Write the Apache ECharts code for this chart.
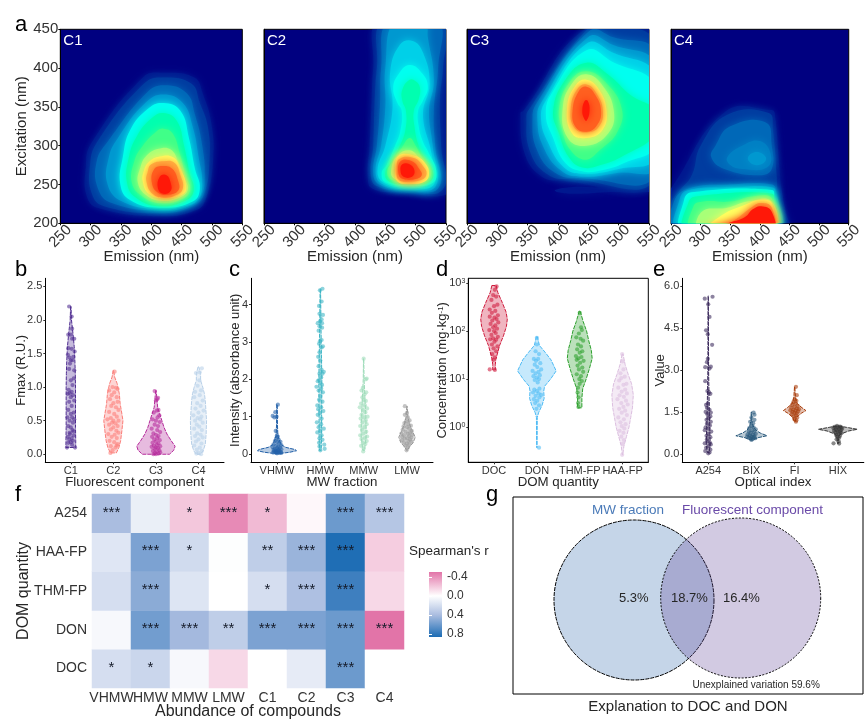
<!DOCTYPE html>
<html><head><meta charset="utf-8">
<script src="https://cdn.jsdelivr.net/npm/echarts@6/dist/echarts.min.js"></script>
<style>html,body{margin:0;padding:0;background:#fff}#c{width:865px;height:723px}</style>
</head><body><div id="c"></div>
<script>
const FONT='Liberation Sans';
// ---------- panel a : contour bands, [level, [[emission, excitation], ...]] ----------
const JET=['#00188f','#003ca0','#0068b8','#0098d0','#00d0e8','#00fff0','#00ffb0','#40ff88','#a8ff78','#ffff60','#ffb040','#ff6020','#ff1808'];
const C1_BANDS=[
[0,[[301,303],[386,388],[419,394],[471,388],[485,367],[499,329],[502,282],[491,234],[474,217],[414,209],[315,219],[294,234],[292,273]]],
[1,[[311,305],[388,380],[420,388],[466,380],[480,355],[493,325],[496,282],[487,238],[468,222],[414,213],[322,222],[302,238],[299,275]]],
[2,[[328,305],[392,368],[420,378],[458,368],[472,340],[484,300],[488,260],[482,235],[462,222],[414,216],[335,226],[312,245],[310,280]]],
[3,[[345,310],[390,355],[420,366],[452,355],[468,325],[478,285],[484,250],[476,230],[455,222],[414,218],[352,228],[328,250],[330,285]]],
[5,[[365,320],[395,348],[420,355],[448,345],[462,310],[472,270],[480,245],[468,228],[414,220],[365,230],[349,250],[353,285]]],
[6,[[376,312],[400,335],[420,342],[442,332],[454,300],[463,265],[470,243],[458,230],[414,222],[375,233],[360,252],[363,285]]],
[7,[[386,300],[408,318],[420,322],[435,316],[447,290],[456,262],[464,243],[450,231],[415,226],[385,235],[368,252],[372,280]]],
[8,[[392,287],[412,296],[432,295],[445,278],[455,258],[460,243],[446,233],[416,229],[392,236],[378,252],[382,272]]],
[9,[[396,279],[414,286],[436,285],[448,270],[457,250],[453,238],[420,232],[396,238],[386,254],[388,268]]],
[10,[[400,276],[420,280],[438,278],[448,262],[452,245],[440,236],[420,233],[402,238],[392,254],[394,266]]],
[11,[[405,270],[420,274],[435,270],[444,255],[445,243],[430,237],[412,239],[401,252]]],
[12,[[414,260],[425,262],[432,252],[432,242],[420,238],[411,245]]]];
const C2_BANDS=[
[0,[[440,462],[430,400],[427,350],[424,300],[421,260],[428,245],[470,240],[560,242],[565,300],[565,462]]],
[1,[[447,462],[436,400],[432,350],[430,300],[426,262],[436,248],[480,242],[545,244],[542,300],[540,360],[545,400],[545,462]]],
[2,[[456,462],[443,400],[441,350],[436,300],[430,265],[440,250],[485,243],[538,246],[532,300],[530,345],[537,400],[536,462]]],
[3,[[466,462],[450,400],[450,350],[443,300],[434,268],[444,251],[490,244],[533,248],[528,300],[522,345],[530,385],[520,440],[515,462]]],
[4,[[474,430],[458,395],[462,350],[450,300],[437,268],[448,252],[490,246],[530,250],[526,290],[512,340],[523,380],[512,420],[495,435]]],
[5,[[490,404],[470,390],[463,373],[470,355],[477,345],[475,320],[466,300],[452,275],[444,265],[450,253],[490,248],[528,252],[534,268],[522,290],[512,305],[505,325],[504,345],[512,358],[520,375],[512,392]]],
[6,[[490,385],[478,372],[478,358],[484,345],[483,320],[474,300],[460,280],[450,265],[456,254],[490,250],[524,254],[528,268],[514,285],[504,302],[498,325],[497,345],[505,360],[507,375],[500,383]]],
[7,[[490,310],[476,296],[462,280],[453,266],[460,256],[490,252],[520,256],[523,268],[510,285],[500,300]]],
[8,[[490,294],[470,287],[460,270],[464,258],[490,254],[517,258],[520,270],[505,285]]],
[9,[[472,287],[498,287],[515,278],[522,264],[515,254],[490,251],[470,254],[466,268]]],
[10,[[473,283],[497,284],[512,274],[518,264],[510,256],[490,254],[472,256],[469,270]]],
[11,[[475,280],[494,280],[506,270],[510,262],[500,257],[480,257],[472,263]]],
[12,[[478,276],[490,276],[498,268],[494,260],[480,260],[475,268]]]];
const C3_BANDS=[
[0,[[338,342],[343,345],[448,452],[560,456],[560,255],[400,255],[370,262],[345,290]]],
[0,[[395,243],[430,247],[470,246],[560,246],[560,241],[480,240],[430,238],[400,240]]],
[1,[[348,338],[355,350],[450,452],[480,456],[560,432],[560,257],[420,257],[385,262],[355,290]]],
[2,[[358,335],[365,355],[452,448],[490,440],[560,420],[560,262],[440,258],[395,265],[365,295]]],
[3,[[366,335],[372,355],[450,440],[490,430],[560,405],[560,272],[500,265],[440,260],[405,268],[375,300]]],
[4,[[372,335],[380,358],[448,432],[490,420],[560,392],[560,285],[500,270],[440,264],[410,272],[383,305]]],
[5,[[380,340],[390,368],[447,423],[490,408],[560,378],[560,300],[510,278],[470,268],[440,267],[412,278],[392,310]]],
[6,[[392,345],[412,385],[447,407],[482,392],[520,365],[560,345],[560,315],[510,288],[470,275],[440,272],[418,285],[402,315]]],
[7,[[402,350],[422,385],[447,396],[478,382],[505,348],[498,318],[470,295],[445,282],[420,295],[408,318]]],
[8,[[408,350],[425,382],[447,392],[473,378],[492,345],[483,316],[447,300],[416,310]]],
[9,[[415,349],[429,378],[447,385],[467,373],[480,345],[473,320],[447,310],[423,316]]],
[10,[[421,348],[432,373],[447,379],[463,368],[474,345],[467,324],[447,317],[427,323]]],
[11,[[424,345],[434,370],[447,376],[461,366],[471,345],[464,326],[447,318],[429,324]]],
[12,[[440,345],[444,358],[449,358],[452,345],[447,332],[443,335]]]];
const C4_BANDS=[
[0,[[240,235],[250,245],[342,344],[420,346],[425,342],[433,273],[436,247],[444,213],[450,190],[240,190]]],
[1,[[300,300],[345,340],[415,342],[422,320],[428,265],[430,225],[432,190],[245,190],[250,225],[262,240],[285,262]]],
[2,[[325,300],[350,325],[410,330],[420,300],[420,270],[400,262],[340,270],[318,285]]],
[2.5,[[345,285],[370,300],[400,306],[418,290],[412,272],[370,270],[350,275]]],
[3,[[380,285],[395,292],[410,285],[405,277],[388,276]]],
[2,[[255,190],[255,228],[280,245],[350,250],[420,250],[428,240],[430,190]]],
[3,[[262,190],[265,232],[280,243],[350,246],[422,246],[426,235],[428,190]]],
[5,[[270,190],[272,230],[285,240],[420,243],[424,232],[425,190]]],
[6,[[275,190],[280,228],[295,235],[420,238],[423,225],[423,190]]],
[7,[[285,190],[288,222],[305,228],[350,228],[390,235],[420,232],[422,190]]],
[8,[[298,190],[302,215],[345,220],[380,228],[420,228],[422,190]]],
[9,[[310,190],[335,210],[375,224],[400,230],[420,226],[421,190]]],
[10,[[335,190],[365,208],[385,220],[402,226],[420,220],[421,190]]],
[12,[[305,190],[350,201],[375,208],[388,218],[402,222],[420,215],[421,190]]]];
const EM_TICKS=[250,300,350,400,450,500,550];
const EX_TICKS=[200,250,300,350,400,450];

// ---------- panels b-e : violin outline [value, half width], points [jitter, value] ----------
const FMAX_CATS=['C1','C2','C3','C4'];
const FMAX_COLORS=['#4f2d91','#fb7d78','#b52a9b','#b8d0e8'];
const FMAX_VIOLINS=[
[[2.2,.005],[2.0,.015],[1.8,.05],[1.6,.08],[1.4,.095],[1.2,.105],[1.0,.11],[.8,.11],[.6,.11],[.4,.11],[.2,.115],[.1,.115]],
[[1.25,.005],[1.15,.03],[1.05,.09],[.9,.14],[.75,.16],[.6,.2],[.5,.225],[.35,.2],[.2,.17],[.1,.13],[.02,.07]],
[[.95,.005],[.85,.02],[.7,.04],[.6,.09],[.5,.14],[.4,.19],[.3,.26],[.2,.36],[.12,.45],[.06,.42],[0,.32]],
[[1.3,.01],[1.2,.05],[1.1,.05],[1.0,.1],[.9,.14],[.8,.16],[.6,.18],[.5,.19],[.3,.18],[.15,.16],[.05,.11],[0,.05]]];
const FMAX_POINTS=[
[[-.04,2.2],[.02,2.05],[.03,1.87],[-.06,1.78],[0,1.78],[.08,1.72],[.03,1.72],[-.06,1.58],[.02,1.57],[.09,1.53],[-.07,1.48],[-.03,1.44],[.06,1.45],[0,1.4],[.04,1.4],[-.02,1.35],[.08,1.25],[-.04,1.27],[.07,1.13],[0,1.1],[.04,1.03],[-.05,.96],[.02,.93],[-.03,.91],[-.07,.9],[.05,.88],[0,.85],[.08,.8],[-.04,.78],[.02,.72],[-.06,.66],[.07,.62],[0,.6],[-.08,.55],[.03,.55],[.08,.52],[-.03,.5],[.05,.47],[-.06,.42],[0,.4],[.04,.36],[-.02,.3],[.07,.28],[-.07,.26],[.02,.24],[-.04,.22],[.05,.2],[0,.18],[-.06,.17],[.03,.14],[.1,.1],[-.09,.1],[-.03,.32],[.06,.34]],
[[.03,1.23],[-.02,1.0],[.06,.99],[.1,.97],[-.1,.95],[.02,.92],[-.04,.88],[.08,.85],[-.08,.82],[.1,.78],[0,.76],[-.05,.72],[.06,.7],[.12,.66],[-.1,.63],[.02,.6],[.08,.56],[-.06,.54],[-.14,.52],[.12,.5],[0,.5],[-.03,.47],[.05,.46],[-.1,.44],[.1,.42],[0,.4],[-.06,.37],[.07,.35],[.12,.32],[-.12,.3],[.03,.29],[-.04,.26],[.08,.24],[-.09,.2],[.02,.18],[.1,.15],[-.06,.12],[.05,.1],[-.02,.06],[-.07,.02],[.08,.13]],
[[-.03,.94],[.05,.84],[0,.8],[.03,.82],[.06,.66],[.02,.65],[-.05,.62],[.08,.58],[.04,.55],[-.08,.52],[0,.5],[.09,.48],[-.03,.44],[.05,.42],[-.1,.38],[.03,.36],[.1,.33],[-.06,.31],[0,.29],[.06,.27],[-.09,.26],[.03,.24],[-.04,.22],[.09,.21],[0,.19],[-.08,.17],[.06,.16],[.02,.14],[-.05,.13],[.1,.12],[-.1,.11],[0,.1],[.05,.09],[-.03,.08],[.08,.06],[-.07,.05],[.02,.04],[-.02,.02],[.06,.01],[0,0],[-.06,0],[.1,.03]],
[[.08,1.28],[.03,1.22],[-.06,1.21],[.02,1.1],[-.02,1.02],[.06,.95],[-.08,.93],[.03,.88],[-.1,.85],[.1,.8],[-.03,.76],[.05,.72],[-.07,.68],[.12,.65],[0,.62],[-.12,.58],[.07,.56],[-.02,.54],[.04,.52],[-.08,.5],[.1,.47],[-.04,.44],[.02,.41],[-.1,.38],[.08,.36],[-.03,.31],[.05,.29],[-.08,.27],[.1,.25],[0,.22],[-.06,.19],[.07,.16],[-.1,.13],[.03,.1],[-.04,.07],[.08,.05],[0,.02],[-.05,.01],[.06,0]]];

const MW_CATS=['VHMW','HMW','MMW','LMW'];
const MW_COLORS=['#2260a8','#3cb5c5','#9fdcba','#9a9a9a'];
const MW_VIOLINS=[
[[1.33,.005],[1.0,.01],[.8,.01],[.5,.02],[.35,.06],[.25,.1],[.18,.2],[.12,.42],[.09,.45],[.05,.3],[.02,.1]],
[[4.42,.005],[3,.02],[2,.035],[1,.03],[.5,.03],[.1,.02]],
[[2.55,.003],[2,.01],[1.5,.03],[1,.05],[.5,.06],[.1,.02]],
[[1.28,.005],[1,.02],[.8,.06],[.6,.13],[.45,.19],[.3,.14],[.2,.06],[.1,.01]]];
const MW_POINTS=[
[[.02,1.32],[-.04,1.12],[-.1,1.02],[-.06,.98],[-.01,1.0],[-.03,.62],[0,.5],[.02,.46],[-.02,.42],[.04,.38],[-.05,.35],[.08,.33],[0,.32],[.05,.28],[-.08,.26],[.1,.24],[-.02,.22],[.03,.2],[-.1,.18],[.07,.17],[0,.15],[-.05,.14],[.1,.13],[.04,.12],[-.08,.11],[.02,.1],[-.03,.09],[.06,.08],[-.07,.07],[0,.06],[.09,.05],[-.04,.05],[.03,.04],[-.09,.04],[.06,.03],[-.02,.03],[.1,.03],[0,.02]],
[[.05,4.42],[-.01,4.38],[.03,4.08],[-.03,3.96],[-.02,3.75],[.06,3.72],[.03,3.6],[-.01,3.55],[.04,3.5],[-.06,3.5],[-.02,3.42],[.04,3.38],[-.04,3.3],[-.01,3.02],[.03,3.05],[-.03,2.95],[.06,2.88],[.03,2.85],[-.02,2.72],[-.05,2.6],[0,2.5],[-.04,2.35],[.03,2.25],[.08,2.2],[-.02,2.15],[.05,2.15],[.02,2.05],[-.03,1.98],[-.06,1.95],[0,1.9],[.04,1.85],[-.09,1.8],[.02,1.75],[-.04,1.7],[.06,1.65],[0,1.55],[-.03,1.45],[.05,1.4],[-.07,1.3],[.02,1.25],[-.05,1.2],[.07,1.15],[-.01,1.1],[-.06,1.05],[.03,.95],[-.08,.85],[.02,.8],[-.04,.72],[.08,.68],[0,.62],[-.07,.58],[.03,.5],[-.02,.42],[.05,.38],[-.03,.3],[.09,.25],[-.02,.2],[.1,.14],[0,.1]],
[[0,2.55],[.07,2.02],[.05,2.0],[-.02,1.77],[-.05,1.7],[.06,1.65],[.02,1.6],[-.03,1.52],[0,1.45],[.05,1.42],[-.06,1.35],[.03,1.3],[-.09,1.25],[.08,1.22],[-.02,1.18],[.04,1.12],[-.05,1.05],[.09,1.0],[.01,.98],[-.07,.95],[.05,.9],[-.03,.85],[.07,.8],[-.08,.75],[.02,.72],[-.04,.65],[.06,.6],[-.01,.55],[-.08,.5],[.08,.47],[.03,.43],[-.05,.4],[.07,.35],[-.02,.3],[.04,.27],[-.06,.22],[0,.15],[-.01,.07]],
[[-.05,1.28],[0,1.1],[-.05,1.05],[.02,.98],[.06,.9],[-.02,.88],[-.06,.83],[.03,.8],[.09,.76],[-.08,.74],[0,.72],[.05,.68],[-.1,.65],[.11,.62],[-.03,.6],[.07,.58],[-.13,.55],[.02,.54],[.12,.52],[-.07,.5],[.05,.48],[-.11,.46],[.1,.44],[0,.43],[-.05,.41],[.07,.39],[-.12,.37],[.03,.35],[.1,.33],[-.07,.31],[0,.28],[.05,.25],[-.04,.22],[.02,.17],[-.01,.1]]];

const DOM_CATS=['DOC','DON','THM-FP','HAA-FP'];
const DOM_COLORS=['#cf1a3c','#4dbbf5','#2ca02c','#dcbfe0'];
// log10 of concentration (mg/kg)
const DOM_VIOLINS=[
[[2.95,.05],[2.8,.09],[2.6,.19],[2.4,.28],[2.25,.31],[2.1,.29],[1.9,.22],[1.7,.13],[1.5,.07],[1.4,.04],[1.3,.03],[1.19,.03]],
[[1.885,.01],[1.7,.06],[1.55,.2],[1.4,.33],[1.17,.45],[1.0,.32],[.85,.18],[.75,.16],[.6,.17],[.45,.12],[.3,.04],[.2,.01],[-.43,.005]],
[[2.42,.01],[2.2,.08],[2.0,.16],[1.8,.21],[1.6,.27],[1.43,.29],[1.2,.22],[1.0,.15],[.8,.07],[.6,.05],[.4,.05]],
[[1.52,.01],[1.3,.06],[1.1,.13],[.9,.21],[.67,.25],[.4,.23],[.2,.19],[0,.15],[-.2,.09],[-.4,.03],[-.58,.005]]];
const DOM_POINTS=[
[[.06,2.93],[.02,2.86],[-.02,2.75],[.05,2.72],[-.06,2.65],[.08,2.55],[0,2.52],[-.1,2.45],[.03,2.42],[-.05,2.38],[.09,2.33],[-.1,2.3],[.01,2.28],[.06,2.25],[-.04,2.22],[.1,2.18],[-.08,2.15],[.03,2.12],[-.02,2.08],[.07,2.05],[-.11,2.02],[0,2.0],[.04,1.96],[-.06,1.92],[.09,1.88],[-.02,1.85],[-.09,1.83],[.05,1.82],[.01,1.78],[-.05,1.72],[.08,1.68],[-.01,1.64],[.05,1.58],[-.04,1.52],[.02,1.45],[-.02,1.4],[-.1,1.2],[.02,1.19]],
[[0,1.86],[0,1.72],[-.03,1.58],[.05,1.52],[-.07,1.42],[.03,1.42],[-.02,1.38],[.08,1.33],[-.05,1.3],[.01,1.25],[.1,1.2],[-.1,1.17],[.04,1.15],[-.03,1.12],[.07,1.08],[-.08,1.06],[0,1.03],[.05,1.0],[-.05,.98],[.02,.93],[.06,.8],[-.06,.78],[0,.75],[-.09,.72],[.04,.7],[.1,.67],[-.03,.65],[.06,.62],[-.07,.58],[.01,.55],[-.04,.5],[.05,.45],[-.01,.38],[.05,-.43]],
[[0,2.38],[.03,2.08],[.05,2.02],[-.02,1.95],[-.08,1.87],[.02,1.84],[.08,1.8],[-.04,1.72],[.03,1.68],[-.06,1.62],[.06,1.58],[0,1.55],[-.09,1.48],[.04,1.46],[-.03,1.43],[-.07,1.4],[.09,1.38],[.01,1.34],[-.05,1.28],[.06,1.24],[-.02,1.2],[.08,1.15],[-.07,1.1],[.03,1.06],[-.01,1.0],[.05,.96],[0,.9],[-.04,.82],[-.05,.72],[-.03,.62],[-.04,.5],[-.03,.42]],
[[-.01,1.52],[0,1.37],[.02,1.2],[-.05,1.12],[.05,1.05],[-.03,1.02],[-.08,.97],[.09,.9],[.02,.88],[-.1,.82],[.06,.78],[-.02,.74],[.1,.7],[-.07,.66],[.03,.63],[-.12,.58],[.08,.55],[-.03,.5],[.12,.47],[.02,.42],[-.08,.38],[.06,.34],[-.02,.3],[.1,.25],[-.1,.2],[.03,.16],[-.05,.1],[.07,.06],[-.02,.02],[.04,-.03],[-.07,-.08],[.02,-.12],[-.03,-.2],[.03,-.27],[0,-.35],[-.01,-.58]]];

const OPT_CATS=['A254','BIX','FI','HIX'];
const OPT_COLORS=['#3b2a5c','#26577a','#a83c0a','#333333'];
const OPT_VIOLINS=[
[[5.65,.003],[3,.008],[1.5,.025],[.7,.04],[.3,.045],[.05,.02]],
[[1.5,.005],[1.2,.01],[1.0,.04],[.85,.1],[.75,.2],[.65,.36],[.58,.15],[.5,.03]],
[[2.4,.003],[2.0,.02],[1.8,.06],[1.65,.17],[1.55,.26],[1.45,.15],[1.3,.04],[1.15,.01]],
[[1.0,.02],[.95,.2],[.88,.45],[.82,.25],[.7,.05],[.55,.02],[.37,.01]]];
const OPT_POINTS=[
[[-.08,5.55],[.1,5.62],[0,5.35],[.03,4.9],[-.05,4.42],[-.01,4.28],[.09,3.9],[-.01,3.4],[-.03,3.28],[.06,3.12],[-.07,3.1],[.03,3.05],[-.07,2.6],[-.02,2.25],[.02,2.2],[.05,2.15],[-.01,1.8],[-.05,1.75],[-.03,1.65],[.03,1.58],[-.06,1.5],[.06,1.48],[-.02,1.42],[.05,1.35],[.02,1.28],[-.04,1.22],[.06,1.15],[-.03,1.08],[.04,1.02],[-.06,.95],[.01,.9],[-.08,.85],[.07,.8],[0,.72],[-.04,.65],[.05,.6],[-.03,.52],[-.02,.45],[.04,.4],[-.08,.38],[.06,.34],[.01,.28],[-.05,.22],[.05,.15],[-.07,.1],[.03,.05],[0,.02]],
[[.05,1.48],[.07,1.4],[0,1.3],[.07,1.22],[-.03,1.15],[.04,1.1],[0,1.0],[.05,.95],[-.05,.92],[.1,.88],[.02,.84],[-.06,.8],[.06,.78],[-.02,.75],[.1,.72],[-.09,.7],[.03,.68],[-.04,.66],[.07,.64],[-.1,.62],[0,.62],[.05,.6],[-.06,.58],[.09,.56],[-.02,.55],[.03,.53],[0,.5]],
[[.03,2.4],[.05,2.1],[0,1.95],[.04,1.9],[-.03,1.85],[.02,1.8],[-.06,1.75],[.07,1.72],[0,1.68],[-.08,1.65],[.05,1.62],[.1,1.6],[-.03,1.58],[-.1,1.56],[.02,1.55],[.08,1.52],[-.05,1.5],[0,1.47],[.05,1.45],[-.07,1.42],[.03,1.38],[-.02,1.34],[.06,1.3],[-.01,1.25],[.04,1.2],[.03,1.15]],
[[-.02,1.0],[.05,.98],[-.08,.97],[.08,.95],[0,.95],[-.1,.92],[.1,.9],[.03,.9],[-.05,.88],[.07,.85],[-.02,.85],[-.09,.82],[.05,.8],[0,.78],[-.06,.76],[.08,.74],[.02,.72],[-.04,.68],[.05,.65],[-.02,.62],[.03,.58],[-.03,.52],[.02,.45],[-.1,.38],[.03,.37]]];

// ---------- panel f ----------
const HEAT_X=['VHMW','HMW','MMW','LMW','C1','C2','C3','C4'];
const HEAT_Y=['DOC','DON','THM-FP','HAA-FP','A254'];
const HEAT_R=[
[.2,.25,.04,-.14,0,.12,.6,0],
[.04,.58,.42,.3,.55,.55,.6,-.5],
[.2,.5,.16,0,.2,.38,.75,-.14],
[.15,.55,.22,.01,.3,.45,.85,-.18],
[.4,.1,-.2,-.42,-.25,-.03,.6,.35]];
const HEAT_SIG=[
['*','*','','','','','***',''],
['','***','***','**','***','***','***','***'],
['','***','','','*','***','***',''],
['','***','*','','**','***','***',''],
['***','','*','***','*','','***','***']];
const R_STOPS=[[-.5,[226,116,168]],[0,[255,255,255]],[.4,[170,189,224]],[.86,[28,108,180]]];
const R_TICKS=[-.4,0,.4,.8];

// ---------- panel g ----------
const VENN=[{x:121,y:103,r:80,fill:'#c5d5e8',dash:[4,1]},{x:227.7,y:101,r:80,fill:'rgba(94,66,151,.28)',dash:[2,1.5]}];
const VENN_PCT=['5.3%','18.7%','16.4%'];

// ---------- build ----------
const textC='#262626', tickC='#333';
function rampColor(v){let i=0;while(i<R_STOPS.length-2&&v>R_STOPS[i+1][0])i++;const a=R_STOPS[i],b=R_STOPS[i+1],t=(v-a[0])/(b[0]-a[0]);return 'rgb('+[0,1,2].map(k=>Math.round(a[1][k]+(b[1][k]-a[1][k])*t)).join(',')+')';}
const grid=[],xAxis=[],yAxis=[],series=[],graphic=[];
function addText(text,x,y,size,o){graphic.push({type:'text',z:100,x,y,silent:true,style:Object.assign({text,fontFamily:FONT,fontSize:size,fill:textC,align:'left',verticalAlign:'middle'},o||{})});}

// a
const PANELS=[[C1_BANDS,'C1',60.3],[C2_BANDS,'C2',264],[C3_BANDS,'C3',467],[C4_BANDS,'C4',671]];
PANELS.forEach(([bands,name,left],i)=>{
  const g=grid.length;
  grid.push({left,width:182,top:29.3,height:194,show:true,backgroundColor:'#000080',borderColor:'#000',borderWidth:1});
  xAxis.push({gridIndex:g,type:'value',min:250,max:550,interval:50,splitLine:{show:false},
    axisLine:{show:true,onZero:false,lineStyle:{color:'#000'}},axisTick:{length:2,lineStyle:{color:'#000'}},
    axisLabel:{rotate:45,align:'center',verticalAlign:'middle',fontFamily:FONT,fontSize:15,color:tickC,margin:13,hideOverlap:false,showMinLabel:true,showMaxLabel:true},
    name:'Emission (nm)',nameLocation:'middle',nameMoveOverlap:false,nameGap:26,nameTextStyle:{fontFamily:FONT,fontSize:15,color:textC}});
  yAxis.push({gridIndex:g,type:'value',min:200,max:450,interval:50,splitLine:{show:false},
    axisLine:{show:true,onZero:false,lineStyle:{color:'#000'}},axisTick:{show:i===0,length:2,lineStyle:{color:'#000'}},
    axisLabel:{show:i===0,fontFamily:FONT,fontSize:15,color:tickC,margin:2},
    name:i===0?'Excitation (nm)':'',nameLocation:'middle',nameMoveOverlap:false,nameGap:31,nameTextStyle:{fontFamily:FONT,fontSize:15,color:textC}});
  series.push({type:'custom',xAxisIndex:g,yAxisIndex:g,silent:true,clip:true,coordinateSystem:'cartesian2d',
    data:bands.map((b,k)=>[k]),encode:{x:0},
    renderItem(p,api){const b=bands[p.dataIndex],fill=echarts.color.lerp(b[0]/12,JET);
      return {type:'polygon',shape:{points:b[1].map(q=>api.coord(q)),smooth:.45},style:{fill,shadowBlur:9,shadowColor:fill}};}});
  addText(name,left+3,41,15,{fill:'#fff'});
});

// b-e violins
function violinPanel(cfg){
  const g=grid.length;
  grid.push(Object.assign({left:cfg.left,width:cfg.width,top:278.3,height:184},cfg.box?{show:true,borderColor:'#000',borderWidth:1}:{}));
  xAxis.push({gridIndex:g,type:'value',min:.4,max:4.6,splitLine:{show:false},
    axisLine:{show:true,onZero:false,lineStyle:{color:'#000',width:1}},
    axisTick:{show:true,length:2,customValues:[1,2,3,4],lineStyle:{color:tickC}},
    axisLabel:{customValues:[1,2,3,4],formatter:v=>cfg.cats[v-1],fontFamily:FONT,fontSize:11,color:tickC,margin:3,hideOverlap:false},
    name:cfg.xName,nameLocation:'middle',nameMoveOverlap:false,nameGap:14,nameTextStyle:{fontFamily:FONT,fontSize:13.3,color:textC}});
  yAxis.push({gridIndex:g,type:'value',min:cfg.min,max:cfg.max,splitLine:{show:false},
    axisLine:{show:true,onZero:false,lineStyle:{color:'#000',width:1}},
    axisTick:{show:true,length:2,customValues:cfg.ticks,lineStyle:{color:tickC}},
    axisLabel:{customValues:cfg.ticks,formatter:cfg.fmt,fontFamily:FONT,fontSize:11,color:tickC,margin:3,hideOverlap:false,
      rich:{sup:{fontSize:7,verticalAlign:'top',fontFamily:FONT,color:tickC,padding:[0,0,4,0]},b:{fontSize:11,fontFamily:FONT,color:tickC}}},
    name:cfg.yName,nameLocation:'middle',nameMoveOverlap:false,nameGap:cfg.nameGap,
    nameTextStyle:{fontFamily:FONT,fontSize:13,color:textC,rich:{sup:{fontSize:8,verticalAlign:'top',fontFamily:FONT,color:textC},n:{fontSize:13,fontFamily:FONT,color:textC}}}});
  cfg.violins.forEach((prof,i)=>{
    const color=cfg.colors[i];
    series.push({type:'custom',xAxisIndex:g,yAxisIndex:g,silent:true,data:[[i+1,prof[0][0]],[i+1,prof[prof.length-1][0]]],encode:{x:0,y:1},
      renderItem(p,api){ if(p.dataIndex) return null;
        const cx=i+1,L=prof.map(r=>api.coord([cx-r[1],r[0]])),R=prof.map(r=>api.coord([cx+r[1],r[0]])).reverse();
        return {type:'polygon',shape:{points:L.concat(R)},style:{fill:echarts.color.modifyAlpha(color,.32),stroke:color,lineWidth:1,lineDash:[4,1]}};}});
    series.push({type:'scatter',xAxisIndex:g,yAxisIndex:g,silent:true,symbolSize:4.2,
      itemStyle:{color,opacity:.58},data:cfg.points[i].map(q=>[i+1+q[0],q[1]])});
  });
}
violinPanel({left:45.3,width:178.7,cats:FMAX_CATS,colors:FMAX_COLORS,violins:FMAX_VIOLINS,points:FMAX_POINTS,min:-.12,max:2.62,ticks:[0,.5,1,1.5,2,2.5],fmt:v=>v.toFixed(1),xName:'Fluorescent component',yName:'Fmax (R.U.)',nameGap:17});
violinPanel({left:251,width:182,cats:MW_CATS,colors:MW_COLORS,violins:MW_VIOLINS,points:MW_POINTS,min:-.22,max:4.7,ticks:[0,1,2,3,4],fmt:v=>String(v),xName:'MW fraction',yName:'Intensity (absorbance unit)',nameGap:9});
violinPanel({left:468.3,width:180,box:true,cats:DOM_CATS,colors:DOM_COLORS,violins:DOM_VIOLINS,points:DOM_POINTS,min:-.735,max:3.1,ticks:[0,1,2,3],fmt:v=>'{b|10}{sup|'+v+'}',xName:'DOM quantity',yName:'{n|Concentration (mg·kg}{sup|-1}{n|)}',nameGap:19});
violinPanel({left:682.3,width:181.5,cats:OPT_CATS,colors:OPT_COLORS,violins:OPT_VIOLINS,points:OPT_POINTS,min:-.3,max:6.28,ticks:[0,1.5,3,4.5,6],fmt:v=>v.toFixed(1),xName:'Optical index',yName:'Value',nameGap:15});

// f
{const g=grid.length;
 grid.push({left:92,width:312,top:494,height:194});
 xAxis.push({gridIndex:g,type:'category',data:HEAT_X,axisLine:{show:false},axisTick:{show:false},
   axisLabel:{interval:0,fontFamily:FONT,fontSize:14,color:tickC,margin:3,hideOverlap:false},
   name:'Abundance of compounds',nameLocation:'middle',nameMoveOverlap:false,nameGap:16,nameTextStyle:{fontFamily:FONT,fontSize:16,color:textC}});
 yAxis.push({gridIndex:g,type:'category',data:HEAT_Y,axisLine:{show:false},axisTick:{show:false},
   axisLabel:{fontFamily:FONT,fontSize:14,color:tickC,margin:5},
   name:'DOM quantity',nameLocation:'middle',nameMoveOverlap:false,nameGap:60,nameTextStyle:{fontFamily:FONT,fontSize:16,color:textC}});
 const cells=[];HEAT_R.forEach((row,j)=>row.forEach((v,i)=>cells.push([i,j,v,HEAT_SIG[j][i]])));
 series.push({type:'heatmap',xAxisIndex:g,yAxisIndex:g,silent:true,data:cells,progressive:0,
   label:{show:true,formatter:p=>p.data[3],fontFamily:FONT,fontSize:15,color:'#141a28',offset:[0,-1]}});
}
const vmColors=[];for(let k=0;k<=68;k++)vmColors.push(rampColor(-.5+k*.02));
const visualMap=[{show:false,type:'continuous',seriesIndex:series.length-1,min:-.5,max:.86,dimension:2,inRange:{color:vmColors}}];
addText("Spearman's r",409,551,13.5);

// colourbar
{const g=grid.length;
 grid.push({left:429,width:13,top:572,height:65});
 xAxis.push({gridIndex:g,type:'value',min:0,max:1,show:false});
 const yc={gridIndex:g,type:'value',inverse:true,min:-.5,max:.86,splitLine:{show:false},axisLine:{show:false},z:20};
 yAxis.push(Object.assign({},yc,{position:'right',axisTick:{show:true,inside:true,length:3,customValues:R_TICKS,lineStyle:{color:'#fff'}},
   axisLabel:{customValues:R_TICKS,formatter:v=>v.toFixed(1),fontFamily:FONT,fontSize:12,color:tickC,margin:5,hideOverlap:false}}));
 const yi=yAxis.length-1;
 yAxis.push(Object.assign({},yc,{position:'left',axisLabel:{show:false},axisTick:{show:true,inside:true,length:3,customValues:R_TICKS,lineStyle:{color:'#fff'}}}));
 const span=1.36;
 series.push({type:'custom',xAxisIndex:g,yAxisIndex:yi,silent:true,data:[[0,-.5],[1,.86]],encode:{x:0,y:1},
   renderItem(p,api){if(p.dataIndex)return null;const a=api.coord([0,-.5]),b=api.coord([1,.86]);
     return {type:'rect',shape:{x:a[0],y:a[1],width:b[0]-a[0],height:b[1]-a[1]},
       style:{fill:new echarts.graphic.LinearGradient(0,0,0,1,R_STOPS.map(s=>({offset:(s[0]+.5)/span,color:rampColor(s[0])})))}};}});
}

// g
{const g=grid.length;
 grid.push({left:513,width:350,top:497,height:197,show:true,borderColor:'#000',borderWidth:1});
 xAxis.push({gridIndex:g,type:'value',min:0,max:350,axisLine:{show:false},axisTick:{show:false},axisLabel:{show:false},splitLine:{show:false},
   name:'Explanation to DOC and DON',nameLocation:'middle',nameMoveOverlap:false,nameGap:5,nameTextStyle:{fontFamily:FONT,fontSize:15,color:textC,verticalAlign:'top'}});
 yAxis.push({gridIndex:g,type:'value',inverse:true,min:0,max:197,axisLine:{show:false},axisTick:{show:false},axisLabel:{show:false},splitLine:{show:false}});
 series.push({type:'custom',xAxisIndex:g,yAxisIndex:yAxis.length-1,silent:true,data:VENN.map(c=>[c.x,c.y]),encode:{x:0,y:1},
   renderItem(p,api){const c=VENN[p.dataIndex],o=api.coord([c.x,c.y]);
     return {type:'circle',shape:{cx:o[0],cy:o[1],r:api.size([c.r,0])[0]},style:{fill:c.fill,stroke:'#000',lineWidth:1,lineDash:c.dash}};}});
 addText('MW fraction',592,510,13.5,{fill:'#4a7ab8'});
 addText('Fluorescent component',682,510,13.5,{fill:'#6a4aa8'});
 addText(VENN_PCT[0],619,598,13);addText(VENN_PCT[1],671,598,13);addText(VENN_PCT[2],723,598,13);
 addText('Unexplained variation 59.6%',692.5,685,10);
}

// panel letters
[['a',15,25],['b',15,270],['c',229,270],['d',436,270],['e',653,270],['f',15,495],['g',486,495]].forEach(l=>addText(l[0],l[1],l[2],22,{fill:'#000'}));

const chart=echarts.init(document.getElementById('c'),null,{renderer:'canvas'});
chart.setOption({animation:false,backgroundColor:'#fff',textStyle:{fontFamily:FONT},grid,xAxis,yAxis,series,visualMap,graphic:{elements:graphic}});
</script></body></html>
